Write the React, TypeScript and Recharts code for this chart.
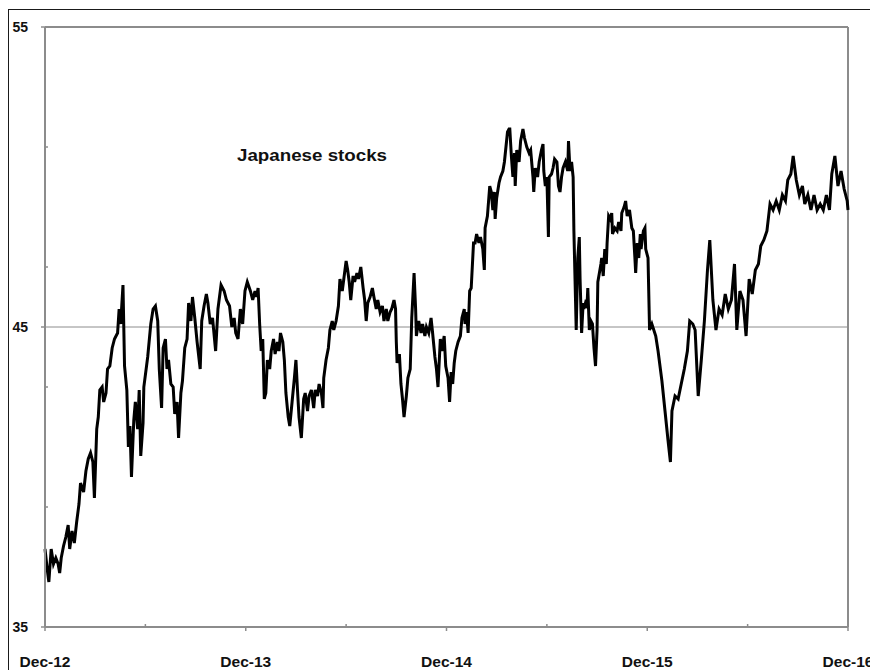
import { LineChart, Line, XAxis, YAxis, ReferenceLine } from 'recharts'

// trading days since end of Dec 2012 (about 260 per year)
const days = [
  0, 3, 5, 8, 11, 14, 17, 19, 21, 24, 27, 30, 32, 35, 38, 41, 44, 46, 50, 53, 56, 59, 62, 64, 67, 69, 71, 74, 76, 79,
  81, 84, 87, 90, 94, 96, 98, 101, 103, 106, 108, 110, 112, 115, 117, 120, 122, 124, 127, 128, 133,
  137, 140, 143, 146, 148, 151, 153, 156, 158, 160, 163, 166, 168, 171, 173, 176, 178, 181, 184, 186, 189, 191, 194,
  197, 201, 203, 206, 209, 211, 214, 217, 221, 224, 228, 232, 235, 239, 242, 245, 247, 250, 253, 256, 259, 262,
  266, 269, 272, 274, 276, 278, 280, 282, 284, 286, 288, 291, 293, 296, 298, 301, 303, 305, 308, 310, 312, 315, 317,
  320, 323, 325, 327, 329, 332, 335, 337, 340, 342, 345, 348, 350, 353, 355, 358, 360, 361, 364, 367, 369, 372, 374,
  377, 380, 382, 385, 387, 390,
  392, 394, 396, 399, 401, 404, 406, 409, 412, 414, 416, 418, 421, 424, 426, 429, 431, 434, 437, 439, 442, 444, 447,
  449, 452, 454, 455, 456, 459, 461, 463, 465, 468, 470, 473, 475, 478, 480, 481, 484, 487, 489, 492, 494, 497, 500,
  502, 505, 507, 509, 512, 514, 517, 519, 522, 524,
  526, 528, 530, 532, 535, 538, 540, 543, 544, 546, 548, 550, 552, 555, 557, 559, 562, 564, 567, 569, 570, 573, 576,
  578, 580, 582, 583, 585, 588, 590, 593, 595, 597, 599, 601, 602, 604, 606, 608, 609, 611, 614, 616, 619, 621, 624,
  627, 629, 632, 633, 635, 638, 640, 643, 645, 646, 648, 650, 652, 653,
  656, 658, 660, 663, 665, 667, 669, 671, 674, 677, 678, 680, 682, 684, 685, 687, 688, 690, 692, 693, 695, 697, 698,
  700, 702, 703, 705, 707, 709, 711, 713, 715, 716, 718, 720, 721, 723, 725, 727, 728, 730, 732, 734, 735, 738, 741,
  743, 746, 747, 750, 752, 754, 757, 760, 762, 764, 765, 767, 769, 771, 772, 775, 777, 778, 781, 783,
  786, 791, 794, 799, 803, 807, 810, 812, 816, 820, 824, 828, 832, 835, 839, 842, 846, 850, 854, 858, 861, 865, 869,
  873, 877, 881, 885, 889, 893, 896, 900, 904, 908, 912, 916, 920, 924, 927, 931, 935, 939, 943, 947, 951, 955, 959,
  962, 966, 969, 973, 977, 981, 984, 988, 992, 996, 1000, 1004, 1008, 1012, 1016, 1019, 1023, 1027, 1031, 1035, 1039,
  1040,
]

const values = [
  37.6, 36.9, 36.5, 37.6, 37.1, 37.3, 37.1, 36.8, 37.3, 37.7, 38.0, 38.4, 37.6, 38.2, 37.8, 38.5, 39.1, 39.8, 39.5,
  40.2, 40.6, 40.8, 40.5, 39.3, 41.6, 42.0, 42.9, 43.0, 42.5, 42.8, 43.6, 43.7, 44.3, 44.6, 44.8, 45.6, 45.1, 46.4,
  43.7, 42.9, 41.0, 41.7, 40.0, 41.9, 42.5, 41.6, 42.9, 40.7, 41.8, 43.0, 44.0,
  45.1, 45.6, 45.7, 45.2, 43.6, 42.3, 44.3, 44.6, 43.6, 43.9, 43.1, 43.0, 42.1, 42.5, 41.3, 42.8, 43.2, 44.3, 44.6,
  45.8, 45.2, 46.0, 45.3, 44.5, 43.6, 45.2, 45.7, 46.1, 45.8, 45.1, 45.3, 44.2, 45.6, 46.4, 46.2, 45.9, 45.7, 45.0,
  45.3, 44.8, 44.6, 45.6, 45.1, 46.2, 46.5,
  46.2, 45.9, 46.2, 46.0, 46.3, 45.1, 44.2, 44.6, 42.6, 42.8, 43.9, 43.6, 44.2, 44.6, 44.1, 44.5, 44.2, 44.8, 44.5,
  43.9, 42.8, 42.0, 41.7, 42.5, 43.3, 43.9, 42.9, 42.0, 41.3, 42.6, 42.8, 42.2, 42.7, 42.9, 42.3, 42.9, 42.7, 43.1,
  42.8, 42.3, 43.3, 43.9, 44.3, 44.9, 45.2, 44.9, 45.2, 45.7, 46.6, 46.2, 46.6, 47.2,
  46.9, 46.5, 45.9, 46.7, 46.5, 46.8, 46.6, 47.0, 46.3, 45.9, 45.2, 45.8, 46.0, 46.3, 46.0, 45.6, 45.9, 45.5, 45.7,
  45.2, 45.6, 45.2, 45.5, 45.6, 45.9, 45.6, 44.5, 43.8, 44.1, 43.1, 42.6, 42.0, 42.7, 43.3, 43.6, 45.3, 46.8, 45.6,
  44.7, 45.2, 44.8, 45.1, 44.7, 45.0, 44.8, 45.3, 44.8, 44.0, 43.6, 43.0, 44.6, 44.2, 44.7, 43.7, 43.3, 42.5,
  43.5, 43.1, 43.8, 44.2, 44.5, 44.7, 45.3, 45.6, 45.1, 45.5, 44.8, 46.2, 46.3, 47.8, 47.8, 48.1, 47.8, 48.0, 47.6,
  46.9, 48.3, 48.7, 49.7, 49.5, 48.9, 49.5, 48.6, 49.3, 49.8, 50.0, 50.2, 50.5, 51.0, 51.5, 51.6, 51.6, 50.7, 50.0,
  50.8, 49.7, 50.9, 50.5, 51.2, 51.6, 51.3, 51.0, 50.8, 50.9, 50.0, 49.5, 50.3, 50.0, 50.5, 50.9, 51.1, 50.2, 49.7,
  50.0, 48.0, 50.0,
  50.1, 50.3, 50.6, 50.5, 49.7, 49.5, 50.0, 50.3, 50.5, 50.2, 51.2, 50.2, 50.5, 50.0, 48.2, 46.0, 44.9, 47.3, 48.0,
  46.6, 44.8, 45.8, 45.6, 45.8, 45.7, 46.3, 44.9, 45.2, 45.1, 44.3, 43.7, 44.9, 46.5, 46.8, 47.1, 47.3, 46.7, 47.6,
  47.1, 47.8, 48.7, 48.6, 48.8, 48.1, 48.3, 48.2, 48.5, 48.2, 48.8, 49.0, 49.2, 48.7, 48.9, 48.3, 48.2, 47.3, 46.8,
  47.8, 47.3, 48.1, 47.6, 48.2, 48.3, 47.6, 47.3, 44.9,
  45.1, 44.7, 44.2, 43.2, 42.2, 41.2, 40.5, 42.2, 42.7, 42.6, 43.1, 43.6, 44.2, 45.2, 45.1, 44.9, 42.7, 43.9, 45.2,
  46.9, 47.9, 45.9, 44.9, 45.6, 45.4, 46.1, 45.6, 45.9, 47.1, 44.9, 46.2, 45.9, 44.7, 46.6, 46.1, 46.9, 47.1, 47.7,
  47.9, 48.2, 49.1, 48.9, 49.2, 48.9, 49.4, 49.2, 49.9, 50.1, 50.7, 49.9, 49.4, 49.7, 49.1, 49.4, 48.9, 49.4, 48.9,
  49.1, 48.9, 49.4, 48.9, 50.1, 50.7, 49.7, 50.2, 49.6, 49.2, 48.9,
]

const xTicks = [0, 130, 260, 390, 520, 650, 780, 910, 1040]
const xLabels: Record<number, string> = { 0: 'Dec-12', 260: 'Dec-13', 520: 'Dec-14', 780: 'Dec-15', 1040: 'Dec-16' }
const yTicks = [35, 39, 43, 45, 47, 51, 55]
const yLabels = [35, 45, 55]

const data = days.map((day, i) => ({ day, value: values[i] }))

const AXIS = '#8c8c8c'
const FONT = '"Liberation Sans", Arial, sans-serif'

function YTick({ x, y, payload }: any) {
  const v = payload.value
  if (yLabels.includes(v)) {
    return (
      <g>
        <line x1={x - 4} x2={x} y1={y} y2={y} stroke={AXIS} strokeWidth={1.5} />
        <text x={x - 17} y={y} dy={5} textAnchor="end" fontFamily={FONT} fontWeight="bold" fontSize={14} fill="#111">
          {v}
        </text>
      </g>
    )
  }
  return <line x1={x} x2={x + 3} y1={y} y2={y} stroke={AXIS} strokeWidth={1.5} />
}

function XTick({ x, y, payload }: any) {
  const label = xLabels[payload.value]
  if (label) {
    return (
      <g>
        <line x1={x} x2={x} y1={y} y2={y + 4} stroke={AXIS} strokeWidth={1.5} />
        <text x={x} y={y + 40} textAnchor="middle" fontFamily={FONT} fontWeight="bold" fontSize={15}
          textLength={51} lengthAdjust="spacingAndGlyphs" fill="#111">
          {label}
        </text>
      </g>
    )
  }
  return <line x1={x} x2={x} y1={y} y2={y - 3} stroke={AXIS} strokeWidth={1.5} />
}

export default function App() {
  return (
    <div style={{ position: 'absolute', left: 0, top: 0, width: 870, height: 670, overflow: 'hidden', background: '#fff' }}>
      <div style={{ position: 'absolute', left: 8, top: 9, width: 900, height: 700, border: '1.5px solid #1a1a1a' }} />
      <LineChart width={870} height={670} data={data} margin={{ top: 27, right: 22, bottom: 13, left: 0 }}>
        <XAxis
          dataKey="day"
          type="number"
          domain={[0, 1040]}
          ticks={xTicks}
          height={30}
          tickSize={0}
          tickMargin={0}
          tickLine={false}
          axisLine={{ stroke: AXIS, strokeWidth: 2 }}
          tick={<XTick />}
          interval={0}
        />
        <YAxis
          type="number"
          domain={[35, 55]}
          ticks={yTicks}
          width={45}
          tickSize={0}
          tickMargin={0}
          tickLine={false}
          axisLine={{ stroke: AXIS, strokeWidth: 2 }}
          tick={<YTick />}
          interval={0}
        />
        <ReferenceLine y={45} stroke={AXIS} strokeWidth={1} />
        <ReferenceLine y={55} stroke={AXIS} strokeWidth={2} />
        <ReferenceLine x={1040} stroke={AXIS} strokeWidth={2} />
        <Line
          dataKey="value"
          type="linear"
          stroke="#000"
          strokeWidth={3}
          dot={false}
          isAnimationActive={false}
        />
      </LineChart>
      <svg width={870} height={670} style={{ position: 'absolute', left: 0, top: 0, pointerEvents: 'none' }}>
        <text x={237} y={161} fontFamily={FONT} fontWeight="bold" fontSize={16} textLength={150}
          lengthAdjust="spacingAndGlyphs" fill="#111">
          Japanese stocks
        </text>
      </svg>
    </div>
  )
}
